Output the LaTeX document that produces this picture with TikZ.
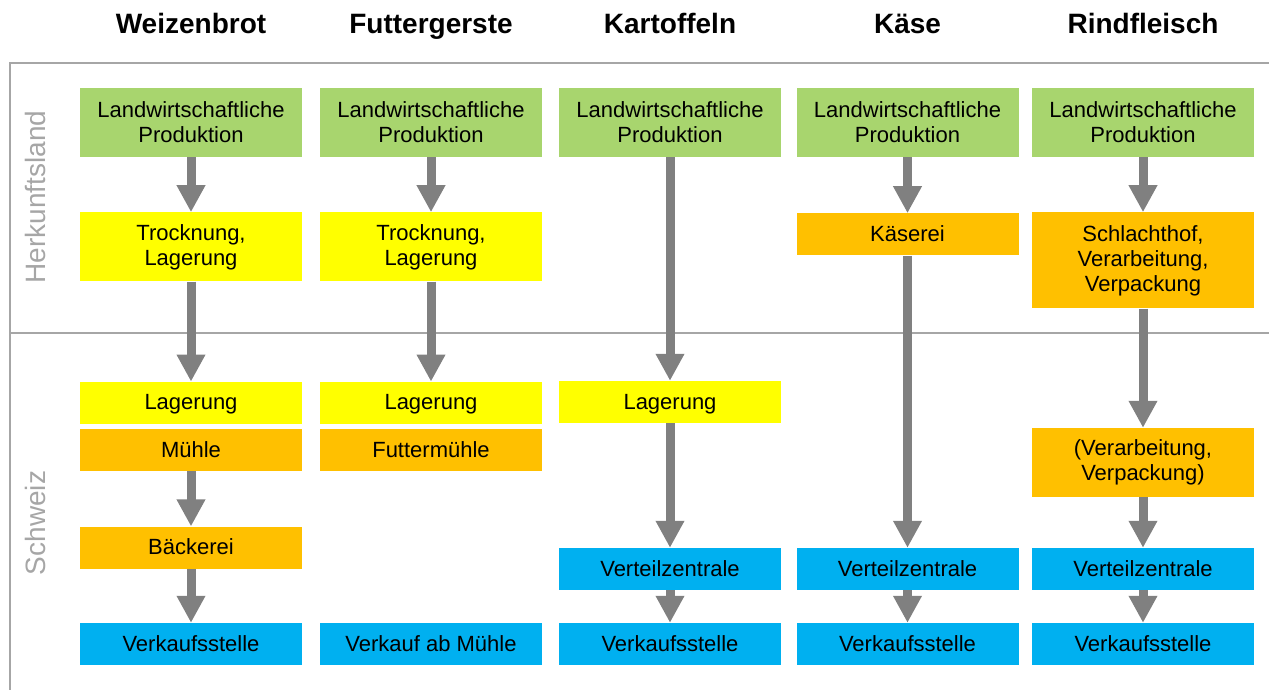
\documentclass[tikz,border=0pt]{standalone}
\usepackage{fontspec}
\setmainfont{Liberation Sans}
\usetikzlibrary{positioning}
\usetikzlibrary{arrows.meta}
\definecolor{agrar}{RGB}{168,213,110}
\definecolor{lager}{RGB}{255,255,0}
\definecolor{verarb}{RGB}{255,192,0}
\definecolor{handel}{RGB}{0,176,240}
\definecolor{pfeil}{RGB}{128,128,128}
\definecolor{rahmen}{RGB}{166,166,166}
\tikzset{box/.style={rectangle, inner sep=0pt, minimum width=222pt, align=center, font=\fontsize{22}{25}\selectfont}}
\tikzset{one/.style={box, minimum height=42pt, text height=16pt, text depth=2pt}}
\tikzset{two/.style={box, minimum height=69pt}}
\tikzset{three/.style={box, minimum height=96pt}}
\tikzset{flow/.style={draw=pfeil, line width=9pt, -{Triangle[width=27pt,length=27pt]}}}
\tikzset{head/.style={anchor=base, font=\bfseries\fontsize{28}{30}\selectfont}}
\tikzset{zone/.style={text=rahmen, rotate=90, font=\fontsize{28}{30}\selectfont}}

\begin{document}
\begin{tikzpicture}[x=1pt, y=-1pt]
\useasboundingbox (0,0) rectangle (1269,690);

% Rahmen
\draw[rahmen, line width=1.5pt] (1269,63) -- (10,63) -- (10,690);
\draw[rahmen, line width=1.5pt] (10,333) -- (1269,333);
\node[zone] (herkunft) at (35,197) {Herkunftsland};
\node[zone] (schweiz) at (35,523) {Schweiz};

% Spaltenkoepfe
\node[head] (hW) at (191,34) {Weizenbrot};
\node[head] (hF) at (431,34) {Futtergerste};
\node[head] (hK) at (670,34) {Kartoffeln};
\node[head] (hC) at (907.5,34) {Käse};
\node[head] (hR) at (1143,34) {Rindfleisch};

% Weizenbrot
\node[two, fill=agrar] (wL) at (191,122.5) {Landwirtschaftliche\\Produktion};
\node[two, fill=lager] (wT) [below=55pt of wL] {Trocknung,\\Lagerung};
\node[one, fill=lager] (wLa) [below=100pt of wT] {Lagerung};
\node[one, fill=verarb] (wM) [below=5pt of wLa] {Mühle};
\node[one, fill=verarb] (wB) [below=55pt of wM] {Bäckerei};
\node[one, fill=handel] (wV) at (191,644) {Verkaufsstelle};

% Futtergerste
\node[two, fill=agrar] (fL) at (431,122.5) {Landwirtschaftliche\\Produktion};
\node[two, fill=lager] (fT) [below=55pt of fL] {Trocknung,\\Lagerung};
\node[one, fill=lager] (fLa) [below=100pt of fT] {Lagerung};
\node[one, fill=verarb] (fM) [below=5pt of fLa] {Futtermühle};
\node[one, fill=handel] (fV) at (431,644) {Verkauf ab Mühle};

% Kartoffeln
\node[two, fill=agrar] (kL) at (670,122.5) {Landwirtschaftliche\\Produktion};
\node[one, fill=lager] (kLa) at (670,402) {Lagerung};
\node[one, fill=handel] (kZ) at (670,569) {Verteilzentrale};
\node[one, fill=handel] (kV) at (670,644) {Verkaufsstelle};

% Kaese
\node[two, fill=agrar] (cL) at (907.5,122.5) {Landwirtschaftliche\\Produktion};
\node[one, fill=verarb] (cK) [below=56pt of cL] {Käserei};
\node[one, fill=handel] (cZ) at (907.5,569) {Verteilzentrale};
\node[one, fill=handel] (cV) at (907.5,644) {Verkaufsstelle};

% Rindfleisch
\node[two, fill=agrar] (rL) at (1143,122.5) {Landwirtschaftliche\\Produktion};
\node[three, fill=verarb] (rS) [below=55pt of rL] {Schlachthof,\\Verarbeitung,\\Verpackung};
\node[two, fill=verarb] (rR) at (1143,462.5) {(Verarbeitung,\\Verpackung)};
\node[one, fill=handel] (rZ) at (1143,569) {Verteilzentrale};
\node[one, fill=handel] (rV) at (1143,644) {Verkaufsstelle};

% Pfeile
\draw[flow] (wL) -- (wT);
\draw[flow] (wT) -- (wLa);
\draw[flow] (wM) -- (wB);
\draw[flow] (wB) -- (wV);
\draw[flow] (fL) -- (fT);
\draw[flow] (fT) -- (fLa);
\draw[flow] (kL) -- (kLa);
\draw[flow] (kLa) -- (kZ);
\draw[flow] (kZ) -- (kV);
\draw[flow] (cL) -- (cK);
\draw[flow] (cK) -- (cZ);
\draw[flow] (cZ) -- (cV);
\draw[flow] (rL) -- (rS);
\draw[flow] (rS) -- (rR);
\draw[flow] (rR) -- (rZ);
\draw[flow] (rZ) -- (rV);
\end{tikzpicture}
\end{document}
